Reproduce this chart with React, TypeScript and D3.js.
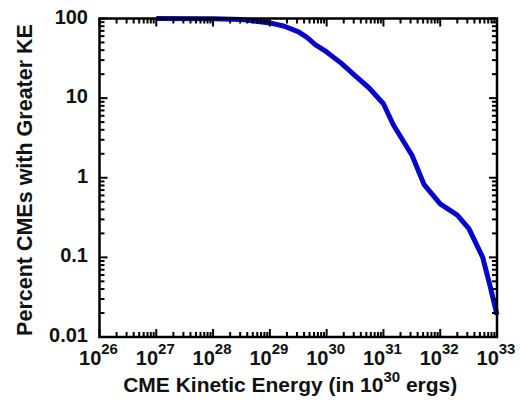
import React from "react";
import * as d3 from "d3";

// CME kinetic energy (ergs) and the percentage of CMEs with a greater kinetic energy
const energy = [
  1e27, 1e28, 3.2e28, 1e29, 1.8e29, 3.2e29, 4.5e29, 6.3e29, 1e30, 1.8e30,
  3.2e30, 5.6e30, 1e31, 1.5e31, 3.2e31, 5.2e31, 1e32, 2e32, 3.2e32, 5.6e32,
  7.6e32, 1e33,
];
const percent = [
  100, 99.5, 97, 88, 80, 68, 58, 47, 38, 27.5,
  19, 13.4, 8.5, 4.6, 1.9, 0.82, 0.47, 0.34, 0.23, 0.1,
  0.043, 0.019,
];

const xMajorExponents = [26, 27, 28, 29, 30, 31, 32, 33];
const yMajorValues = [0.01, 0.1, 1, 10, 100];
const yMajorLabels = ["0.01", "0.1", "1", "10", "100"];

const xTitle = "CME Kinetic Energy (in 10";
const xTitleSup = "30";
const xTitleEnd = " ergs)";
const yTitle = "Percent CMEs with Greater KE";

const W = 520;
const H = 403;
const left = 99.5;
const right = 497;
const top = 18.5;
const bottom = 337;

const FONT = "'Liberation Sans', Arial, Helvetica, sans-serif";

export default function App() {
  const x = d3.scaleLog().domain([1e26, 1e33]).range([left, right]);
  const y = d3.scaleLog().domain([0.01, 100]).range([bottom, top]);

  const pts: [number, number][] = energy.map((e, i) => [e, percent[i]]);
  const line = d3
    .line<[number, number]>()
    .x((d) => x(d[0]))
    .y((d) => y(d[1]))
    .curve(d3.curveLinear);

  // log minor ticks (2..9 per decade)
  const xMinor: number[] = [];
  for (let p = 26; p < 33; p++) {
    for (let m = 2; m <= 9; m++) xMinor.push(m * Math.pow(10, p));
  }
  const yMinor: number[] = [];
  for (let p = -2; p < 2; p++) {
    for (let m = 2; m <= 9; m++) yMinor.push(m * Math.pow(10, p));
  }
  const xMajor = xMajorExponents.map((p) => Math.pow(10, p));

  const major = 8;
  const minor = 5;
  const tickW = 2;

  return (
    <svg
      width={W}
      height={H}
      style={{ position: "absolute", left: 0, top: 0, background: "#fff" }}
      fontFamily={FONT}
    >
      <rect x={0} y={0} width={W} height={H} fill="#fff" />

      {/* data curve */}
      <path
        d={line(pts) || ""}
        fill="none"
        stroke="#0505cc"
        strokeWidth={5}
        strokeLinejoin="round"
        strokeLinecap="butt"
      />

      {/* ticks on all four sides, pointing inward */}
      <g stroke="#000" strokeWidth={tickW}>
        {xMajor.map((v, i) => (
          <g key={"xM" + i}>
            <line x1={x(v)} x2={x(v)} y1={bottom} y2={bottom - major} />
            <line x1={x(v)} x2={x(v)} y1={top} y2={top + major} />
          </g>
        ))}
        {xMinor.map((v, i) => (
          <g key={"xm" + i}>
            <line x1={x(v)} x2={x(v)} y1={bottom} y2={bottom - minor} />
            <line x1={x(v)} x2={x(v)} y1={top} y2={top + minor} />
          </g>
        ))}
        {yMajorValues.map((v, i) => (
          <g key={"yM" + i}>
            <line x1={left} x2={left + major} y1={y(v)} y2={y(v)} />
            <line x1={right} x2={right - major} y1={y(v)} y2={y(v)} />
          </g>
        ))}
        {yMinor.map((v, i) => (
          <g key={"ym" + i}>
            <line x1={left} x2={left + minor} y1={y(v)} y2={y(v)} />
            <line x1={right} x2={right - minor} y1={y(v)} y2={y(v)} />
          </g>
        ))}
      </g>

      {/* frame */}
      <rect
        x={left}
        y={top}
        width={right - left}
        height={bottom - top}
        fill="none"
        stroke="#000"
        strokeWidth={2.5}
      />

      {/* y tick labels */}
      <g fontSize={20} fontWeight="bold" fill="#111" textAnchor="end">
        {yMajorValues.map((v, i) => (
          <text key={"yl" + i} x={88} y={y(v) + 5}>
            {yMajorLabels[i]}
          </text>
        ))}
      </g>

      {/* x tick labels: 10 with superscript exponent */}
      <g fontWeight="bold" fill="#111" textAnchor="middle">
        {xMajorExponents.map((p, i) => (
          <text key={"xl" + i} x={x(Math.pow(10, p)) - 1} y={365} fontSize={20}>
            10
            <tspan fontSize={15} dy={-11}>
              {String(p)}
            </tspan>
          </text>
        ))}
      </g>

      {/* axis titles */}
      <text
        x={(left + right) / 2 - 8}
        y={392}
        fontSize={21}
        fontWeight="bold"
        fill="#111"
        textAnchor="middle"
      >
        {xTitle}
        <tspan fontSize={15} dy={-10}>
          {xTitleSup}
        </tspan>
        <tspan dy={10}>{xTitleEnd}</tspan>
      </text>
      <text
        transform={`translate(32,180) rotate(-90)`}
        fontSize={21.5}
        fontWeight="bold"
        fill="#111"
        textAnchor="middle"
      >
        {yTitle}
      </text>
    </svg>
  );
}
